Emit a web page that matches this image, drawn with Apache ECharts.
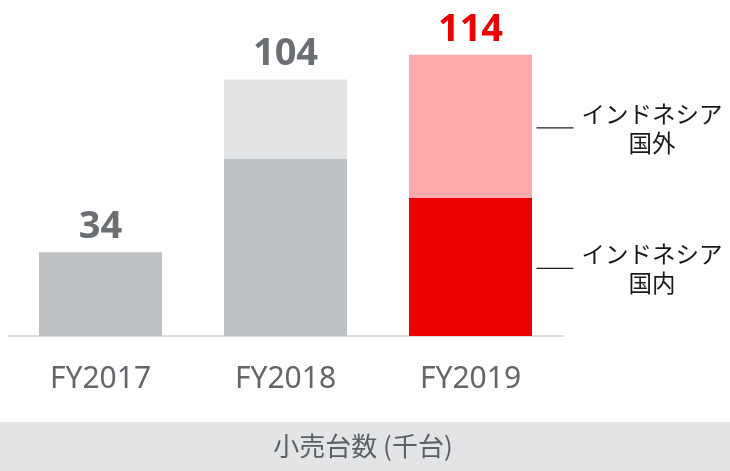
<!DOCTYPE html>
<html><head><meta charset="utf-8">
<script src="https://cdn.jsdelivr.net/npm/echarts@6/dist/echarts.min.js"></script>
<style>html,body{margin:0;padding:0;background:#fff}#c{width:730px;height:471px}</style>
</head><body><div id="c"></div>
<script>
const categories = ['FY2017', 'FY2018', 'FY2019'];
const domestic = [34, 72, 56];
const overseas = [0, 32, 58];
const totals = [34, 104, 114];
const domesticColors = ['#bec1c4', '#bec1c4', '#eb0000'];
const overseasColors = ['#e3e4e6', '#e3e4e6', '#fdaaad'];
const totalColors = ['#6b6f73', '#6b6f73', '#eb0000'];
const annotOverseas = ['インドネシア', '国外'];
const annotDomestic = ['インドネシア', '国内'];
const footer = '小売台数 (千台)';

const chart = echarts.init(document.getElementById('c'));
const font = '"Noto Sans", "Noto Sans CJK JP", sans-serif';
chart.setOption({
  animation: false,
  grid: { left: 8, right: 167, top: 40, bottom: 135 },
  xAxis: {
    type: 'category', data: categories,
    axisLine: { lineStyle: { color: '#dcdddf', width: 2 } },
    axisTick: { show: false },
    axisLabel: { color: '#63666a', fontSize: 30, fontFamily: font, margin: 28 }
  },
  yAxis: { type: 'value', min: 0, max: 120, show: false, splitLine: { show: false } },
  series: [
    { type: 'bar', stack: 's', barWidth: 123,
      data: domestic.map((v, i) => ({ value: v, itemStyle: { color: domesticColors[i] } })) },
    { type: 'bar', stack: 's', barWidth: 123,
      data: overseas.map((v, i) => ({ value: v, itemStyle: { color: overseasColors[i] },
        label: { show: true, position: 'top', distance: 6, formatter: String(totals[i]),
          color: totalColors[i], fontSize: 38, fontWeight: 'bold', fontFamily: font } })) }
  ]
});

function addGraphics() {
  const i = 2;
  const yTopOver = chart.convertToPixel({ gridIndex: 0 }, [i, totals[i]])[1];
  const yMid = chart.convertToPixel({ gridIndex: 0 }, [i, domestic[i]])[1];
  const yBase = chart.convertToPixel({ gridIndex: 0 }, [i, 0])[1];
  const xc = chart.convertToPixel({ gridIndex: 0 }, [i, 0])[0];
  const xLine = xc + 66;
  const yO = (yTopOver + yMid) / 2, yD = (yMid + yBase) / 2;
  const mk = (y, lines) => [
    { type: 'line', shape: { x1: xLine, y1: y + 1.5, x2: xLine + 37, y2: y + 1.5 }, style: { stroke: '#222', lineWidth: 1.2 } },
    { type: 'text', x: 652, y: y + 2, style: { text: lines.join('\n'), fill: '#1a1a1a', font: '23.5px "Noto Sans CJK JP", sans-serif', align: 'center', verticalAlign: 'middle', lineHeight: 29 } }
  ];
  chart.setOption({ graphic: [
    { type: 'rect', shape: { x: 0, y: 422, width: 730, height: 49 }, style: { fill: '#e3e4e6' }, z: -1 },
    { type: 'text', x: 363, y: 446, style: { text: footer, fill: '#5d6063', font: '26px "Noto Sans CJK JP", sans-serif', align: 'center', verticalAlign: 'middle' } },
    ...mk(yO, annotOverseas), ...mk(yD, annotDomestic)
  ]});
}
addGraphics();
</script></body></html>
